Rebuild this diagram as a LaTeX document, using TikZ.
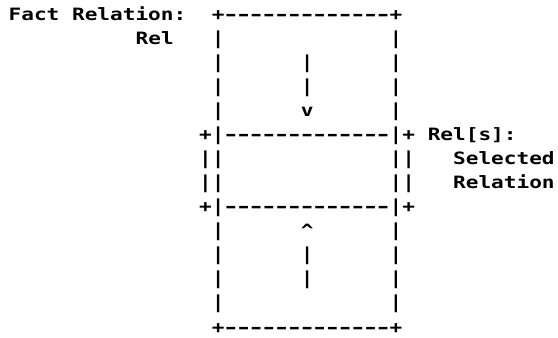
\documentclass[tikz,border=0pt]{standalone}
\usepackage{fontspec}
\usepackage{graphicx}
% character-cell font for the ASCII drawing: 12.7pt advance, 24pt rows
\setmonofont{DejaVu Sans Mono}[FakeStretch=1.24]
% a vertical bar, slightly stretched, centred in its row
\newcommand{\vb}{\raisebox{0.9pt}{\scalebox{1}[1.05]{|}}}
% a widened hyphen kept inside one character cell
\newcommand{\dd}{\makebox[12.7pt]{\scalebox{1.35}[1]{-}}}
\newcommand{\dashrun}{\dd\dd\dd\dd\dd\dd\dd\dd\dd\dd\dd\dd\dd}
\tikzset{
  cell/.style={inner sep=0pt, outer sep=0pt, anchor=base west,
               font=\ttfamily\bfseries\fontsize{17}{24}\selectfont}
}
% \cellat{name}{column}{row}{text}
\newcommand{\cellat}[4]{\node[cell] (#1) at ({8.65+12.7*#2},{317-24*#3}) {#4};}
\begin{document}
\begin{tikzpicture}[x=1pt,y=1pt]
\useasboundingbox (0,0) rectangle (558,338);
% row 0
\cellat{factlbl}{0}{0}{Fact Relation:}
\cellat{topedge}{16}{0}{+\dashrun+}
% row 1
\cellat{rellbl}{10}{1}{Rel}
\cellat{la1}{16}{1}{\vb}
\cellat{ra1}{30}{1}{\vb}
% rows 2-3: downward arrow shaft
\cellat{la2}{16}{2}{\vb}
\cellat{da2}{23}{2}{\vb}
\cellat{ra2}{30}{2}{\vb}
\cellat{la3}{16}{3}{\vb}
\cellat{da3}{23}{3}{\vb}
\cellat{ra3}{30}{3}{\vb}
% row 4: downward arrow head
\cellat{la4}{16}{4}{\vb}
\cellat{dhead}{23}{4}{v}
\cellat{ra4}{30}{4}{\vb}
% row 5: upper edge of the selected part
\cellat{selup}{15}{5}{+\vb\dashrun\vb+}
\cellat{relslbl}{33}{5}{Rel[s]:}
% rows 6-7
\cellat{lb6}{15}{6}{\vb\vb}
\cellat{rb6}{30}{6}{\vb\vb}
\cellat{sellbl}{35}{6}{Selected}
\cellat{lb7}{15}{7}{\vb\vb}
\cellat{rb7}{30}{7}{\vb\vb}
\cellat{rellbl2}{35}{7}{Relation}
% row 8: lower edge of the selected part
\cellat{seldown}{15}{8}{+\vb\dashrun\vb+}
% row 9: upward arrow head
\cellat{lc9}{16}{9}{\vb}
\cellat{uhead}{23}{9}{\textasciicircum}
\cellat{rc9}{30}{9}{\vb}
% rows 10-11: upward arrow shaft
\cellat{lc10}{16}{10}{\vb}
\cellat{ua10}{23}{10}{\vb}
\cellat{rc10}{30}{10}{\vb}
\cellat{lc11}{16}{11}{\vb}
\cellat{ua11}{23}{11}{\vb}
\cellat{rc11}{30}{11}{\vb}
% row 12
\cellat{lc12}{16}{12}{\vb}
\cellat{rc12}{30}{12}{\vb}
% row 13
\cellat{botedge}{16}{13}{+\dashrun+}
\end{tikzpicture}
\end{document}
